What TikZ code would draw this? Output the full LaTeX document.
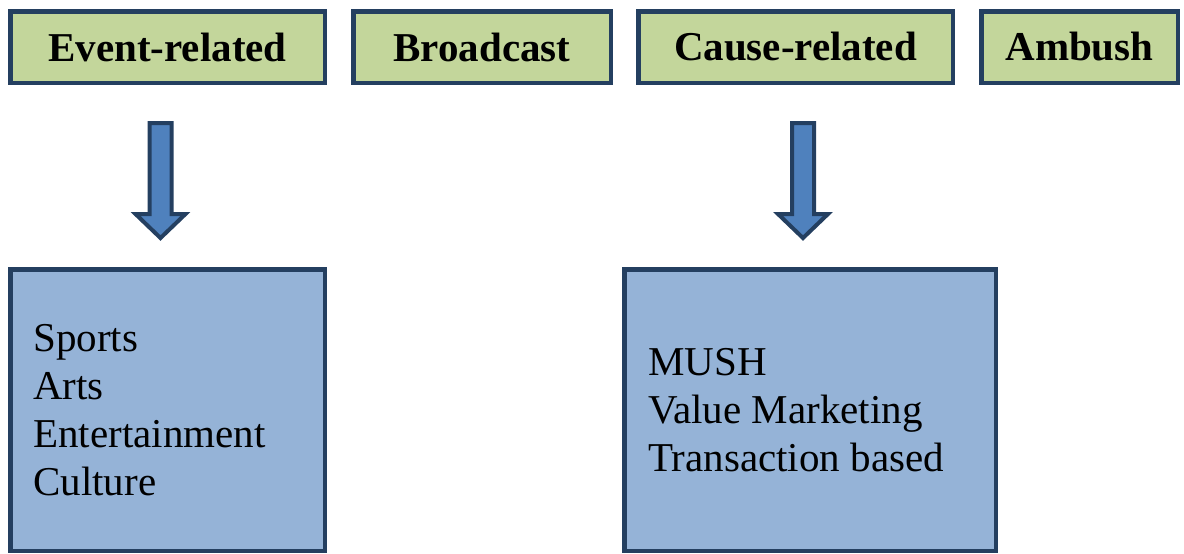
\documentclass[tikz,border=0pt]{standalone}
\usepackage{fontspec}
\setmainfont{Liberation Serif}
\usepackage{xcolor}
\usetikzlibrary{positioning}
\definecolor{hdrgreen}{HTML}{C3D69B}
\definecolor{boxblue}{HTML}{95B3D7}
\definecolor{arrblue}{HTML}{4F81BD}
\definecolor{navy}{HTML}{243F60}

\tikzset{
  hdr/.style={draw=navy, fill=hdrgreen, line width=4.5pt, minimum height=71.5pt,
    inner sep=0pt, font=\fontsize{41}{48}\selectfont\bfseries},
  subbox/.style={draw=navy, fill=boxblue, line width=4.5pt, minimum height=281.5pt,
    inner ysep=0pt, align=flush left, font=\fontsize{41}{48}\selectfont},
  blockarrow/.style={draw=navy, fill=arrblue, line width=4pt, line join=miter}
}

\begin{document}
\begin{tikzpicture}[x=1pt, y=-1pt]
  \useasboundingbox (0,0) rectangle (1184,554);

  % kinds of sponsorship
  \node[hdr, minimum width=314.5pt] (event) at (167.5,47) {Event-related};
  \node[hdr, minimum width=257.5pt, right=24pt of event] (broad) {Broadcast};
  \node[hdr, minimum width=314.5pt, right=23pt of broad] (cause) {Cause-related};
  \node[hdr, minimum width=196.5pt, right=24pt of cause] (ambush) {Ambush};

  % details
  \node[subbox, text width=268.5pt, inner xsep=23pt] (evsub) at (167.5,410)
    {Sports\\Arts\\Entertainment\\Culture};
  \node[subbox, text width=323.5pt, inner xsep=24pt] (causesub) at (810,410)
    {MUSH\\Value Marketing\\Transaction based};

  \coordinate (a1) at ([shift={(-7,-144)}]evsub.north);
  \coordinate (a2) at ([shift={(-7,-144)}]causesub.north);
  \filldraw[blockarrow] (a1) ++(-11,0) -- ++(22,0) -- ++(0,91) -- ++(14,0)
    -- ++(-25,24) -- ++(-25,-24) -- ++(14,0) -- cycle;
  \filldraw[blockarrow] (a2) ++(-11,0) -- ++(22,0) -- ++(0,91) -- ++(14,0)
    -- ++(-25,24) -- ++(-25,-24) -- ++(14,0) -- cycle;
\end{tikzpicture}
\end{document}
